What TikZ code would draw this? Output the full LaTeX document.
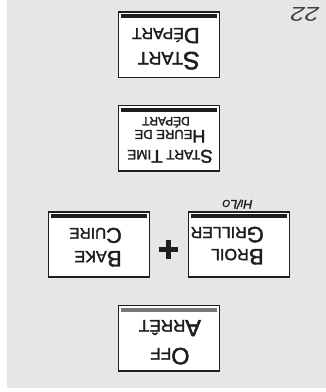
\documentclass[tikz,border=0pt]{standalone}
\usepackage{fontspec}
\setmainfont{Liberation Sans}[FakeBold=2]
\newfontfamily\widefont{Liberation Sans}[FakeStretch=1.3]
\definecolor{bg}{HTML}{E6E6E6}
\definecolor{ink}{HTML}{1E1E1E}
\definecolor{offbar}{HTML}{777777}
\newcommand\SC[4]{{\fontsize{#1}{#1}\selectfont #3}{\fontsize{#2}{#2}\selectfont #4}}
\tikzset{
  btn/.style={draw=ink, line width=1.8pt, fill=white, minimum width=101pt, minimum height=65.5pt, inner sep=0pt},
  barline/.style={draw=ink, line width=4pt},
  lbl/.style={rotate=180, inner sep=0pt, text=ink},
}
\begin{document}
\begin{tikzpicture}[x=1pt,y=-1pt]
\useasboundingbox (0,0) rectangle (326,392);
\fill[bg] (7,0) rectangle (326,388);
% buttons
\node[btn] (start) at (169,44.75) {};
\node[btn] (stime) at (169,138.25) {};
\node[btn] (bake) at (99,244.5) {};
\node[btn] (broil) at (239,244.5) {};
\node[btn] (off) at (169,338.3) {};
% bars
\foreach \b in {start,stime,bake,broil}{
  \draw[barline] ([shift={(3.5pt,-5pt)}]\b.north west) -- ([shift={(-3pt,-5pt)}]\b.north east);
}
\draw[barline, draw=offbar] ([shift={(3.5pt,-5.5pt)}]off.north west) -- ([shift={(-3pt,-5.5pt)}]off.north east);
% labels
\node[lbl, anchor=base west] (t1) at (200,52) {\SC{25}{18}{S}{TART}};
\node[lbl, anchor=base west] (t2) at (200,28) {\SC{22}{16}{D}{ÉPART}};
\node[lbl, anchor=base] (t3) at (170,150) {\SC{18.5}{13.5}{S}{TART }\SC{18.5}{13.5}{T}{IME}};
\node[lbl, anchor=base] (t4) at (170,130) {\SC{18}{13}{H}{EURE DE}};
\node[lbl, anchor=base] (t5) at (166,117) {\fontsize{12}{12}\selectfont DÉPART};
\node[lbl, anchor=base west] (t6) at (122,251) {\SC{22.5}{16.2}{B}{AKE}};
\node[lbl, anchor=base west] (t7) at (122,228) {\SC{21.5}{15.5}{C}{UIRE}};
\node[lbl, anchor=base west] (t8) at (264,249) {\SC{22.5}{16.2}{B}{ROIL}};
\node[lbl, anchor=base west] (t9) at (264,227) {\SC{22}{16}{G}{RILLER}};
\node[lbl, anchor=base] (t10) at (170,348) {\SC{23.5}{17}{O}{FF}};
\node[lbl, anchor=base] (t11) at (170,320) {\SC{23.5}{17}{A}{RRÊT}};
\node[lbl, anchor=base, font=\itshape] (hilo) at (237.5,200) {\SC{12.5}{10}{H}{I}\SC{12.5}{10}{/}{}\SC{12.5}{10}{L}{O}};
\node[lbl, anchor=base, text=ink!85] (page) at (305,7) {\widefont\itshape\fontsize{20}{20}\selectfont 22};
% plus sign
\coordinate (pc) at (168,249);
\draw[ink, line width=5pt] ([xshift=-9.5pt]pc) -- ([xshift=9.5pt]pc);
\draw[ink, line width=5pt] ([yshift=-9.5pt]pc) -- ([yshift=9.5pt]pc);
\end{tikzpicture}
\end{document}
